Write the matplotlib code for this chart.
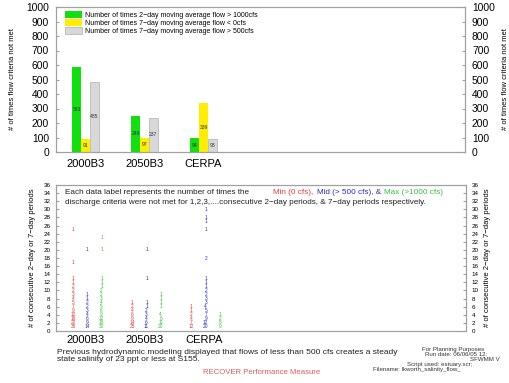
import matplotlib
matplotlib.use("Agg")
import matplotlib.pyplot as plt
import numpy as np

plt.rcParams["font.family"] = ["Liberation Sans", "DejaVu Sans"]

# scenarios and bar data
scenarios = ["2000B3", "2050B3", "CERPA"]
max_exceed = [583, 249, 94]   # 2-day moving average > 1000cfs
min_exceed = [91, 97, 339]    # 7-day moving average < 0cfs
mid_exceed = [485, 237, 93]   # 7-day moving average > 500cfs

bar_labels = [
    "Number of times 2\u2212day moving average flow > 1000cfs",
    "Number of times 7\u2212day moving average flow < 0cfs",
    "Number of times 7\u2212day moving average flow > 500cfs",
]

# consecutive period counts: (number of consecutive periods, number of times)
min_periods = [
    [1, 2, 3, 4, 5, 6, 7, 8, 9, 10, 11, 12, 13, 17, 25],
    [1, 2, 3, 4, 5, 6, 7],
    [1, 2, 3, 4, 5, 6],
]
min_counts = [
    [36, 22, 16, 12, 9, 7, 5, 4, 3, 2, 2, 1, 1, 1, 1],
    [25, 14, 9, 6, 4, 2, 1],
    [12, 7, 4, 2, 1, 1],
]
mid_periods = [
    [1, 2, 3, 4, 5, 6, 7, 8, 9, 20],
    [1, 2, 3, 4, 5, 6, 7, 13, 20],
    [1, 2, 3, 4, 5, 6, 7, 8, 9, 10, 11, 12, 13, 18, 25, 27, 28, 30],
]
mid_counts = [
    [14, 9, 6, 4, 3, 2, 2, 1, 1, 1],
    [11, 6, 4, 3, 2, 1, 1, 1, 1],
    [20, 12, 9, 7, 5, 4, 3, 3, 2, 2, 1, 1, 1, 2, 1, 1, 1, 1],
]
max_periods = [
    [1, 2, 3, 4, 5, 6, 7, 8, 9, 10, 11, 12, 13, 20, 23],
    [1, 2, 3, 4, 6, 7, 8, 9],
    [1, 2, 3, 4],
]
max_counts = [
    [30, 18, 12, 9, 6, 5, 4, 3, 2, 2, 1, 1, 1, 1, 1],
    [20, 11, 6, 4, 1, 1, 1, 1],
    [9, 5, 2, 1],
]

GREEN = "#10e010"
YELLOW = "#ffee00"
GRAY = "#d8d8d8"
RED_T = "#e23a3a"
BLUE_T = "#2b2bcc"
GREEN_T = "#3cbf3c"
SPINE = "#a0a0a0"

W, H = 510, 383
fig = plt.figure(figsize=(W / 100, H / 100), dpi=100)


def px_axes(left, top, right, bottom):
    return fig.add_axes([left / W, 1 - bottom / H, (right - left) / W, (bottom - top) / H])


def style_spines(a):
    for s in a.spines.values():
        s.set_color(SPINE)
        s.set_linewidth(0.8)


x = np.arange(len(scenarios)) + 0.5
xmax = 6.93
bw = 0.148

# ---- top panel: bar chart ----
ax = px_axes(56, 7, 465, 152)
bars_g = ax.bar(x - bw, max_exceed, width=bw, color=GREEN, label=bar_labels[0])
bars_y = ax.bar(x, min_exceed, width=bw, color=YELLOW, label=bar_labels[1])
bars_k = ax.bar(x + bw, mid_exceed, width=bw, color=GRAY, edgecolor="#b0b0b0",
                linewidth=0.5, label=bar_labels[2])

for bars in (bars_g, bars_y, bars_k):
    for b in bars:
        v = b.get_height()
        ax.text(b.get_x() + b.get_width() / 2, v / 2, f"{v:.0f}",
                ha="center", va="center", fontsize=3.6, color="#333333")

ax.set_xlim(0, xmax)
ax.set_ylim(0, 1000)
ax.set_yticks(np.arange(0, 1001, 100))
ax.set_xticks(x)
ax.set_xticklabels(scenarios, fontsize=8)
ax.tick_params(axis="x", length=0, pad=5)
ax.tick_params(axis="y", direction="in", length=2, labelsize=7.4, pad=5, color=SPINE)
ax.set_ylabel("# of times flow criteria not met", fontsize=5.5, labelpad=7)
style_spines(ax)

ax.legend(loc="upper left", bbox_to_anchor=(9 / 409, 1 - 4 / 145), frameon=False,
          fontsize=5, handlelength=2.45, handleheight=1.15, labelspacing=0.05,
          handletextpad=0.5, borderpad=0, borderaxespad=0)

axr = ax.twinx()
axr.set_ylim(0, 1000)
axr.set_yticks(np.arange(0, 1001, 100))
axr.tick_params(axis="y", direction="in", length=2, labelsize=7.4, pad=5, color=SPINE)
axr.set_ylabel("# of times flow criteria not met", fontsize=5.5, labelpad=5)
style_spines(axr)

# ---- bottom panel: consecutive-period labels ----
bx = px_axes(56, 185, 466, 331)
offsets = [-0.21, 0.03, 0.27]
series = [
    (min_periods, min_counts, RED_T),
    (mid_periods, mid_counts, BLUE_T),
    (max_periods, max_counts, GREEN_T),
]
for (periods, counts, col), off in zip(series, offsets):
    for i in range(len(scenarios)):
        for p, c in zip(periods[i], counts[i]):
            bx.text(x[i] + off, p, str(c), ha="center", va="center",
                    fontsize=3.5, color=col)

bx.set_xlim(0, xmax)
bx.set_ylim(0, 36)
bx.set_yticks(np.arange(0, 37, 2))
bx.set_xticks(x)
bx.set_xticklabels(scenarios, fontsize=8)
bx.tick_params(axis="x", length=0, pad=3)
bx.tick_params(axis="y", direction="in", length=2, labelsize=4.5, pad=4, color=SPINE)
bx.set_ylabel("# of consecutive 2\u2212day or 7\u2212day periods", fontsize=5.5, labelpad=5)
style_spines(bx)

bxr = bx.twinx()
bxr.set_ylim(0, 36)
bxr.set_yticks(np.arange(0, 37, 2))
bxr.tick_params(axis="y", direction="in", length=2, labelsize=4.5, pad=4, color=SPINE)
bxr.set_ylabel("# of consecutive 2\u2212day or 7\u2212day periods", fontsize=5.5, labelpad=4)
style_spines(bxr)

# header text inside the lower panel; coloured parts chained one after another
hfs = 5.9
hy1 = 1 - 7 / 146
hy2 = 1 - 17 / 146
hx = 9 / 410
bx.text(hx, hy1, "Each data label represents the number of times the",
        transform=bx.transAxes, fontsize=hfs, va="center", color="#222222")
t_min = bx.text((273 - 56) / 410, hy1, "Min (0 cfs),", transform=bx.transAxes,
                fontsize=hfs, va="center", color=RED_T)
t_mid = bx.annotate("Mid (> 500 cfs), &", xy=(1, 0.5), xycoords=t_min,
                    xytext=(3, 0), textcoords="offset points",
                    fontsize=hfs, va="center", color=BLUE_T)
bx.annotate("Max (>1000 cfs)", xy=(1, 0.5), xycoords=t_mid,
            xytext=(2, 0), textcoords="offset points",
            fontsize=hfs, va="center", color=GREEN_T)
bx.text(hx, hy2, "discharge criteria were not met for 1,2,3,....consecutive 2\u2212day periods, "
        "& 7\u2212day periods respectively.", transform=bx.transAxes, fontsize=hfs,
        va="center", color="#222222")

# footer notes
fig.text(57 / W, 1 - 352.5 / H,
         "Previous hydrodynamic modeling displayed that flows of less than 500 cfs creates a steady",
         fontsize=6.0, va="center", color="#222222")
fig.text(57 / W, 1 - 359.5 / H, "state salinity of 23 ppt or less at S155.",
         fontsize=6.0, va="center", color="#222222")
fig.text(262 / W, 1 - 372 / H, "RECOVER Performance Measure", fontsize=5.6,
         ha="center", va="center", color="#e05a5a")

notes = [
    (422, 349.5, "For Planning Purposes"),
    (425, 354.5, "Run date: 06/06/05 12:"),
    (470, 359.5, "SFWMM V"),
    (407, 364.5, "Script used: estuary.scr;"),
    (373, 369.5, "Filename: lkworth_salinity_flow_"),
]
for nx, ny, s in notes:
    fig.text(nx / W, 1 - ny / H, s, fontsize=4.4, va="center", color="#333333")

fig.savefig("out.png", dpi=100)
